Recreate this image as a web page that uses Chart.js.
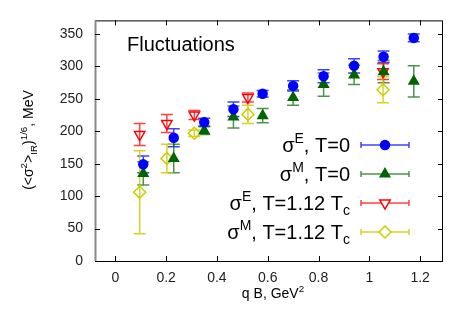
<!DOCTYPE html>
<html>
<head>
<meta charset="utf-8">
<script src="https://cdn.jsdelivr.net/npm/chart.js@4"></script>
<style>
  html, body { margin: 0; padding: 0; background: #fff; }
  #wrap { width: 467px; height: 327px; }
</style>
</head>
<body>
<div id="wrap"><canvas id="chart" width="467" height="327"></canvas></div>
<script>
// data
const qbT0 = [0.11, 0.23, 0.35, 0.465, 0.58, 0.70, 0.82, 0.94, 1.056, 1.175];
const sigE0 = [149, 190, 214, 234, 258, 270, 285, 301, 315, 344];
const sigE0Err = [13, 14, 6, 11, 5, 8, 10, 11, 9, 6];
const sigM0 = [135, 158, 201, 222, 224, 252, 272, 287, 292, 277];
const sigM0Err = [18, 22, 6, 17, 11, 12, 18, 15, 17, 24];
const qbTc = [0.096, 0.203, 0.311, 0.522, 1.054];
const sigETc = [195, 212, 225, 252, 292];
const sigETcErr = [17, 14, 7, 7, 12];
const sigMTc = [106, 158, 197, 226, 264];
const sigMTcErr = [64, 22, 5, 14, 20];
const xTicks = [0, 0.2, 0.4, 0.6, 0.8, 1, 1.2];
const yTicks = [0, 50, 100, 150, 200, 250, 300, 350];

const FONT = "'Liberation Sans', Arial, sans-serif";

const series = [
  { x: qbT0, y: sigE0, err: sigE0Err, color: "#0000ff", bar: "rgba(0,0,255,0.75)", style: "circle", r: 4.5, fill: true, rot: 0, sup: "E", tail: ", T=0", sub: "" },
  { x: qbT0, y: sigM0, err: sigM0Err, color: "#006400", bar: "rgba(0,100,0,0.7)", style: "triangle", r: 5.5, fill: true, rot: 0, sup: "M", tail: ", T=0", sub: "" },
  { x: qbTc, y: sigETc, err: sigETcErr, color: "#ff0000", bar: "rgba(255,0,0,0.75)", style: "triangle", r: 6, fill: false, rot: 180, sup: "E", tail: ", T=1.12 T", sub: "c" },
  { x: qbTc, y: sigMTc, err: sigMTcErr, color: "#cccc00", bar: "rgba(204,204,0,0.85)", style: "rectRot", r: 6, fill: false, rot: 0, sup: "M", tail: ", T=1.12 T", sub: "c" }
];

// draw text pieces with super/subscripts; returns width
function richText(ctx, parts, x, y, size, align) {
  let w = 0;
  const widths = parts.map(p => {
    ctx.font = (p.s ? size * 0.7 : size) + "px " + FONT;
    return ctx.measureText(p.t).width;
  });
  widths.forEach(v => w += v);
  let cx = align === "right" ? x - w : align === "center" ? x - w / 2 : x;
  parts.forEach((p, i) => {
    ctx.font = (p.s ? size * 0.7 : size) + "px " + FONT;
    let dy = 0;
    if (p.s === "sup") dy = -size * 0.45;
    if (p.s === "sub") dy = size * 0.25;
    ctx.fillText(p.t, cx, y + dy);
    cx += widths[i];
  });
  return w;
}

const decor = {
  id: "decor",
  beforeDatasetsDraw(chart) {
    const { ctx, scales } = chart;
    const xs = scales.x, ys = scales.y;
    ctx.save();
    // error bars
    series.forEach(s => {
      ctx.strokeStyle = s.bar;
      ctx.lineWidth = 1.5;
      s.x.forEach((xv, i) => {
        const px = xs.getPixelForValue(xv);
        const lo = ys.getPixelForValue(s.y[i] - s.err[i]);
        const hi = ys.getPixelForValue(s.y[i] + s.err[i]);
        ctx.beginPath();
        ctx.moveTo(px, lo); ctx.lineTo(px, hi);
        ctx.moveTo(px - 6, lo); ctx.lineTo(px + 6, lo);
        ctx.moveTo(px - 6, hi); ctx.lineTo(px + 6, hi);
        ctx.stroke();
      });
    });
    ctx.restore();
  },
  afterDraw(chart) {
    const { ctx, chartArea: a, scales } = chart;
    const xs = scales.x, ys = scales.y;
    ctx.save();
    // frame
    ctx.strokeStyle = "#000";
    ctx.lineWidth = 1;
    ctx.strokeRect(a.left + 0.5, a.top + 0.5, a.right - a.left - 1, a.bottom - a.top);
    ctx.strokeStyle = "#888";
    ctx.lineWidth = 2;
    ctx.beginPath(); ctx.moveTo(a.left + 0.5, a.top); ctx.lineTo(a.left + 0.5, a.bottom); ctx.stroke();
    // inward ticks on all four sides
    ctx.strokeStyle = "#000";
    ctx.lineWidth = 1;
    ctx.beginPath();
    xTicks.forEach(v => {
      const px = Math.round(xs.getPixelForValue(v)) + 0.5;
      ctx.moveTo(px, a.bottom); ctx.lineTo(px, a.bottom - 5);
      ctx.moveTo(px, a.top); ctx.lineTo(px, a.top + 5);
    });
    yTicks.forEach(v => {
      const py = Math.round(ys.getPixelForValue(v)) + 0.5;
      ctx.moveTo(a.left, py); ctx.lineTo(a.left + 5, py);
      ctx.moveTo(a.right, py); ctx.lineTo(a.right - 5, py);
    });
    ctx.stroke();

    ctx.fillStyle = "#000";
    ctx.textBaseline = "alphabetic";
    ctx.textAlign = "left";
    // title inside plot
    ctx.font = "20px " + FONT;
    ctx.fillText("Fluctuations", 127, 51);

    // legend
    series.forEach((s, i) => {
      const cy = 145 + i * 29;
      const parts = [{ t: "\u03c3" }, { t: s.sup, s: "sup" }, { t: s.tail }];
      if (s.sub) parts.push({ t: s.sub, s: "sub" });
      ctx.fillStyle = "#000";
      richText(ctx, parts, 350, cy + 7, 20, "right");
      ctx.strokeStyle = s.bar;
      ctx.lineWidth = 1.5;
      ctx.beginPath();
      ctx.moveTo(361, cy); ctx.lineTo(409, cy);
      ctx.moveTo(361, cy - 3); ctx.lineTo(361, cy + 3);
      ctx.moveTo(409, cy - 3); ctx.lineTo(409, cy + 3);
      ctx.stroke();
      ctx.fillStyle = s.fill ? s.color : "#fff";
      ctx.strokeStyle = s.color;
      Chart.helpers.drawPoint(ctx, { pointStyle: s.style, radius: s.r, rotation: s.rot, borderWidth: 1.5 }, 385, cy);
    });

    // axis titles
    ctx.fillStyle = "#000";
    richText(ctx, [{ t: "q B, GeV" }, { t: "2", s: "sup" }], 273, 298, 14, "center");
    ctx.translate(33, 140);
    ctx.rotate(-Math.PI / 2);
    richText(ctx, [{ t: "(<\u03c3" }, { t: "2", s: "sup" }, { t: ">" }, { t: "IR", s: "sub" }, { t: ")" }, { t: "1/6", s: "sup" }, { t: ", MeV" }], 0, 0, 14, "center");
    ctx.restore();
  }
};

new Chart(document.getElementById("chart"), {
  type: "scatter",
  data: {
    datasets: series.map(s => ({
      data: s.x.map((xv, i) => ({ x: xv, y: s.y[i] })),
      pointStyle: s.style,
      pointRadius: s.r,
      pointRotation: s.rot,
      pointBorderWidth: 1.5,
      borderColor: s.color,
      backgroundColor: s.fill ? s.color : "rgba(255,255,255,0)",
      showLine: false
    }))
  },
  options: {
    responsive: false,
    animation: false,
    layout: { padding: { top: 18, right: 24, left: 0, bottom: 0 } },
    plugins: { legend: { display: false }, tooltip: { enabled: false } },
    scales: {
      x: {
        type: "linear",
        min: -0.08, max: 1.29,
        border: { display: false },
        grid: { display: false, drawTicks: false },
        afterFit: sc => { sc.height = 66; sc.paddingLeft = 0; sc.paddingRight = 0; },
        afterBuildTicks: sc => { sc.ticks = xTicks.map(v => ({ value: v })); },
        ticks: {
          padding: 9,
          autoSkip: false,
          maxRotation: 0,
          color: "#222",
          font: { family: FONT, size: 14 },
          callback: v => String(Math.round(v * 10) / 10)
        }
      },
      y: {
        min: 0, max: 371,
        border: { display: false },
        grid: { display: false, drawTicks: false },
        afterFit: sc => { sc.width = 95; },
        afterBuildTicks: sc => { sc.ticks = yTicks.map(v => ({ value: v })); },
        ticks: {
          padding: 12,
          color: "#222",
          font: { family: FONT, size: 14 }
        }
      }
    }
  },
  plugins: [decor]
});
</script>
</body>
</html>
